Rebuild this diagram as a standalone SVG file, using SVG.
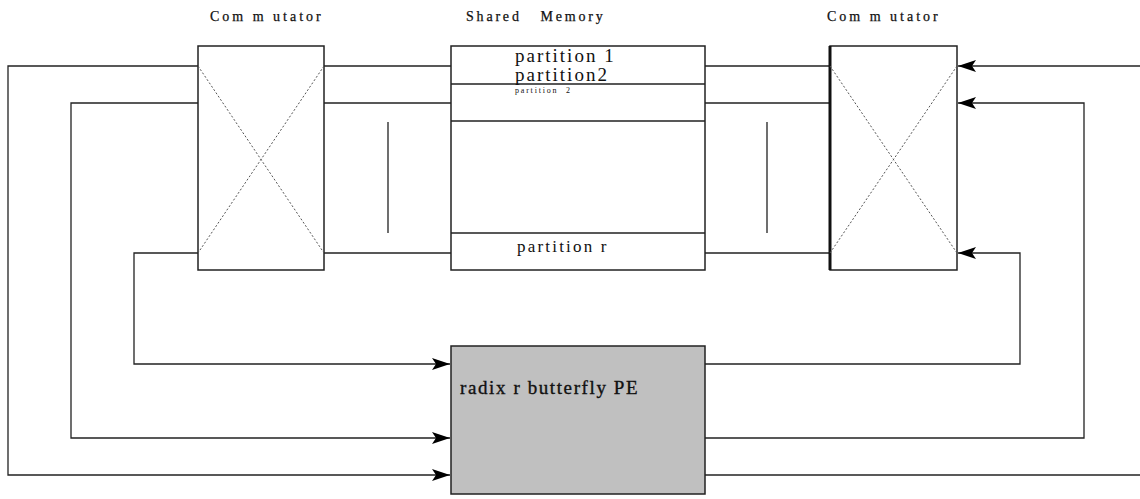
<svg xmlns="http://www.w3.org/2000/svg" width="1140" height="499" viewBox="0 0 1140 499">
<defs>
<style>
.ln{stroke:#222;stroke-width:1.3;fill:none}
.box{stroke:#222;stroke-width:1.5;fill:#fff}
.dash{stroke:#555;stroke-width:1;stroke-dasharray:2,2;fill:none}
.t{font-family:"Liberation Serif",serif;fill:#111;white-space:pre}
</style>
<marker id="ar" viewBox="0 0 18 12" refX="18" refY="6" markerWidth="18" markerHeight="12" markerUnits="userSpaceOnUse" orient="auto">
<path d="M0,0 L18,6 L0,12 L4,6 z" fill="#000"/>
</marker>
</defs>
<rect width="1140" height="499" fill="#fff"/>
<g id="connectors">
<path class="ln" d="M198,66 H8 V475 H450" marker-end="url(#ar)"/>
<path class="ln" d="M198,103 H71 V438 H450" marker-end="url(#ar)"/>
<path class="ln" d="M198,253 H134 V364 H450" marker-end="url(#ar)"/>
<path class="ln" d="M324,66 H451 M324,103 H451 M324,253 H451"/>
<path class="ln" d="M705,66 H830 M705,103 H830 M705,253 H830"/>
<path class="ln" d="M1140,66 H958" marker-end="url(#ar)"/>
<path class="ln" d="M705,438 H1084 V103 H958" marker-end="url(#ar)"/>
<path class="ln" d="M705,364 H1020 V253 H958" marker-end="url(#ar)"/>
<path class="ln" d="M705,475 H1140"/>
<path class="ln" d="M388,122 V233 M578,140 V213 M767,122 V233"/>
</g>
<g id="commutator-left">
<rect class="box" x="198" y="46" width="126" height="224"/>
<path class="dash" d="M198,66 L324,253 M324,66 L198,253"/>
<text class="t" x="210" y="21" font-size="14" letter-spacing="3" stroke="#111" stroke-width="0.25">Com m utator</text>
</g>
<g id="shared-memory">
<rect class="box" x="451" y="46" width="254" height="224"/>
<path class="ln" d="M451,84 H705 M451,121 H705 M451,233 H705"/>
<text class="t" x="466" y="21" font-size="14" letter-spacing="2.8" stroke="#111" stroke-width="0.25" xml:space="preserve">Shared   Memory</text>
<text class="t" x="515" y="62" font-size="19" letter-spacing="2">partition 1</text>
<text class="t" x="515" y="81" font-size="19" letter-spacing="2">partition2</text>
<text class="t" x="515" y="93" font-size="8" letter-spacing="1.8">partition  2</text>
<text class="t" x="517" y="252" font-size="17" letter-spacing="2.2">partition r</text>
</g>
<g id="commutator-right">
<rect class="box" x="830" y="46" width="127" height="224"/>
<path d="M830,46 V270" stroke="#111" stroke-width="3"/>
<path class="dash" d="M830,66 L957,253 M957,66 L830,253"/>
<text class="t" x="827" y="21" font-size="14" letter-spacing="3" stroke="#111" stroke-width="0.25">Com m utator</text>
</g>
<g id="pe">
<rect x="451" y="346" width="254" height="148" fill="#c0c0c0" stroke="#222" stroke-width="1.5"/>
<text class="t" x="460" y="394" font-size="19" letter-spacing="1.6" stroke="#111" stroke-width="0.35">radix r butterfly PE</text>
</g>
</svg>
